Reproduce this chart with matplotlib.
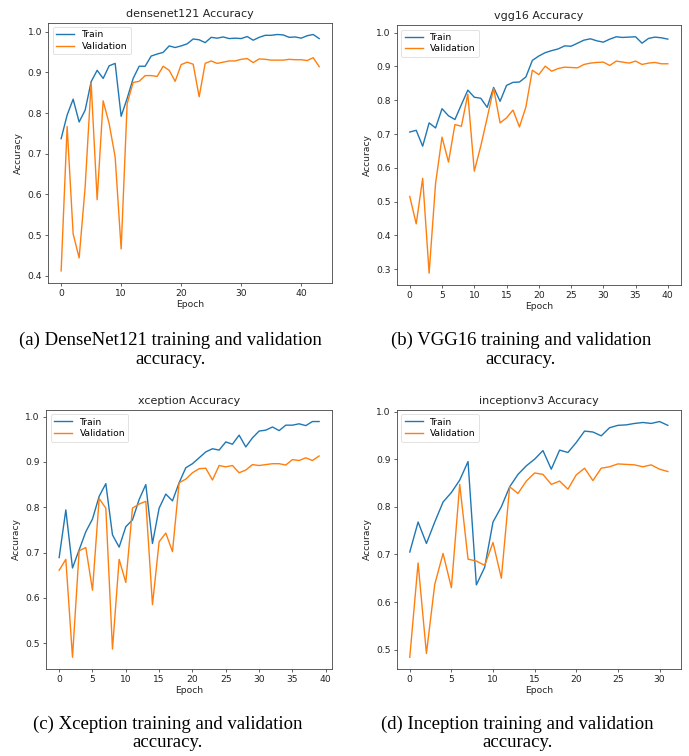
import matplotlib
matplotlib.use("Agg")
import matplotlib.pyplot as plt

# accuracy values
dense_train = [0.737, 0.795, 0.834, 0.778, 0.807, 0.877, 0.905, 0.885, 0.916, 0.922,
               0.792, 0.836, 0.885, 0.915, 0.915, 0.940, 0.945, 0.949, 0.965, 0.961,
               0.965, 0.970, 0.982, 0.980, 0.973, 0.986, 0.984, 0.987, 0.983, 0.984,
               0.983, 0.988, 0.979, 0.986, 0.991, 0.991, 0.993, 0.992, 0.986, 0.987,
               0.984, 0.990, 0.993, 0.983]
dense_val = [0.412, 0.767, 0.503, 0.444, 0.618, 0.874, 0.587, 0.830, 0.774, 0.692,
             0.466, 0.823, 0.875, 0.878, 0.892, 0.892, 0.890, 0.915, 0.905, 0.878,
             0.919, 0.925, 0.920, 0.840, 0.922, 0.928, 0.922, 0.925, 0.928, 0.928,
             0.932, 0.934, 0.924, 0.933, 0.932, 0.930, 0.930, 0.930, 0.932, 0.931,
             0.931, 0.929, 0.936, 0.914]

vgg_train = [0.706, 0.711, 0.664, 0.733, 0.718, 0.775, 0.754, 0.743, 0.787, 0.830,
             0.809, 0.806, 0.779, 0.838, 0.797, 0.844, 0.853, 0.854, 0.869, 0.918,
             0.931, 0.941, 0.947, 0.952, 0.961, 0.960, 0.969, 0.978, 0.982, 0.976,
             0.972, 0.981, 0.988, 0.986, 0.987, 0.988, 0.969, 0.983, 0.987, 0.985,
             0.981]
vgg_val = [0.515, 0.434, 0.569, 0.288, 0.554, 0.691, 0.617, 0.728, 0.723, 0.818,
           0.590, 0.664, 0.748, 0.835, 0.733, 0.748, 0.771, 0.721, 0.780, 0.889,
           0.876, 0.901, 0.886, 0.894, 0.898, 0.897, 0.896, 0.906, 0.910, 0.912,
           0.913, 0.903, 0.916, 0.913, 0.910, 0.916, 0.906, 0.910, 0.912, 0.908,
           0.908]

xcep_train = [0.689, 0.794, 0.666, 0.706, 0.746, 0.774, 0.824, 0.852, 0.739, 0.712,
              0.757, 0.772, 0.817, 0.850, 0.720, 0.798, 0.829, 0.814, 0.854, 0.887,
              0.896, 0.909, 0.922, 0.929, 0.926, 0.944, 0.939, 0.959, 0.933, 0.953,
              0.968, 0.970, 0.977, 0.969, 0.981, 0.981, 0.984, 0.980, 0.989, 0.989]
xcep_val = [0.661, 0.685, 0.469, 0.704, 0.711, 0.617, 0.819, 0.798, 0.487, 0.685,
            0.634, 0.798, 0.807, 0.813, 0.585, 0.724, 0.743, 0.702, 0.854, 0.862,
            0.876, 0.885, 0.886, 0.860, 0.892, 0.889, 0.892, 0.876, 0.882, 0.894,
            0.892, 0.894, 0.896, 0.896, 0.893, 0.905, 0.903, 0.909, 0.903, 0.913]

incep_train = [0.705, 0.768, 0.723, 0.768, 0.810, 0.830, 0.856, 0.895, 0.636, 0.673,
               0.768, 0.800, 0.842, 0.868, 0.886, 0.900, 0.918, 0.879, 0.919, 0.914,
               0.935, 0.959, 0.957, 0.949, 0.966, 0.971, 0.972, 0.975, 0.977, 0.975,
               0.979, 0.971]
incep_val = [0.484, 0.682, 0.492, 0.637, 0.702, 0.630, 0.847, 0.690, 0.686, 0.677,
             0.725, 0.650, 0.842, 0.828, 0.854, 0.871, 0.868, 0.847, 0.854, 0.837,
             0.867, 0.881, 0.855, 0.881, 0.884, 0.890, 0.889, 0.888, 0.884, 0.888,
             0.879, 0.874]

names = ["densenet121", "vgg16", "xception", "inceptionv3"]
captions = ["(a) DenseNet121 training and validation\naccuracy.",
            "(b) VGG16 training and validation\naccuracy.",
            "(c) Xception training and validation\naccuracy.",
            "(d) Inception training and validation\naccuracy."]
series = [(dense_train, dense_val), (vgg_train, vgg_val),
          (xcep_train, xcep_val), (incep_train, incep_val)]

# axes boxes in figure fractions
boxes = [[0.070, 0.626, 0.412, 0.344],
         [0.576, 0.623, 0.412, 0.344],
         [0.067, 0.115, 0.415, 0.343],
         [0.576, 0.115, 0.412, 0.343]]
cap_pos = [(0.248, 0.537), (0.756, 0.537), (0.243, 0.030), (0.751, 0.030)]

fig = plt.figure(figsize=(6.89, 7.56), dpi=100)

for i in range(4):
    ax = fig.add_axes(boxes[i])
    tr, va = series[i]
    ax.plot(range(len(tr)), tr, color="#1f77b4", lw=1.0, label="Train")
    ax.plot(range(len(va)), va, color="#ff7f0e", lw=1.0, label="Validation")
    ax.set_title(names[i] + " Accuracy", fontsize=8.0, pad=4, color="#222222")
    ax.set_xlabel("Epoch", fontsize=6.6, labelpad=1.5, color="#222222")
    ax.set_ylabel("Accuracy", fontsize=6.6, labelpad=3, color="#222222")
    ax.tick_params(labelsize=6.6, length=2.5, width=0.5, pad=2, colors="#222222")
    for s in ax.spines.values():
        s.set_linewidth(0.6)
        s.set_color("#444444")
    leg = ax.legend(loc="upper left", fontsize=6.6, handlelength=2.0,
                    borderpad=0.35, labelspacing=0.3, framealpha=0.8)
    leg.get_frame().set_linewidth(0.5)
    fig.text(cap_pos[i][0], cap_pos[i][1], captions[i], ha="center", va="center",
             family="Liberation Serif", fontsize=13.5, linespacing=1.12)

fig.savefig("out.png", dpi=100)
